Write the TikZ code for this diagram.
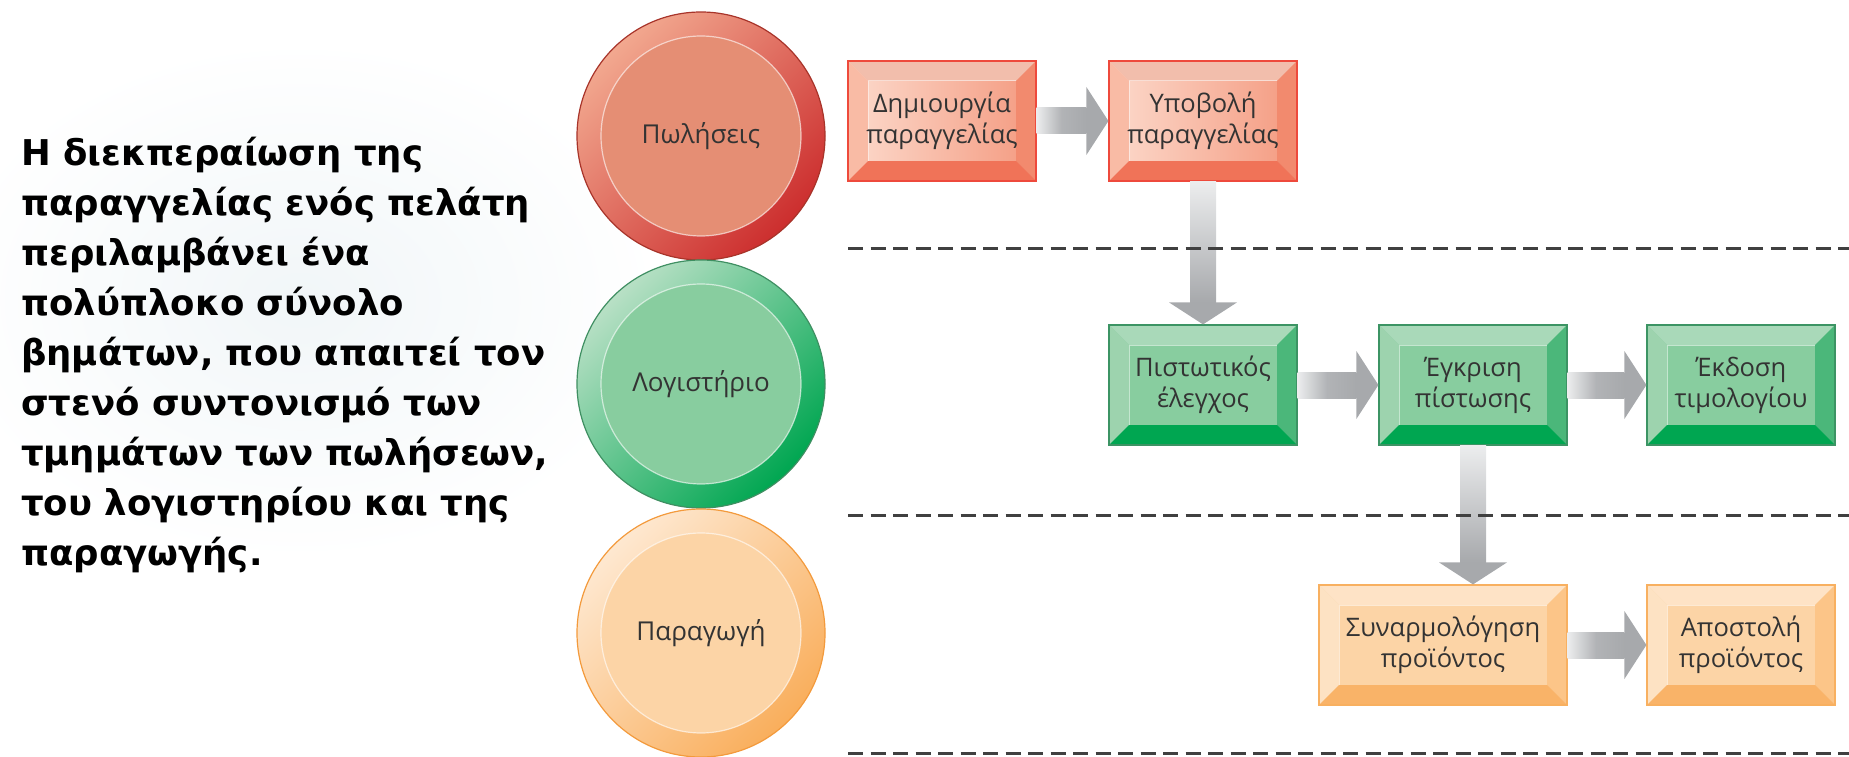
\documentclass[tikz,border=0pt]{standalone}
\usepackage{fontspec}
\setmainfont{Open Sans}
\newfontfamily\leadfont{DejaVu Sans}
\usetikzlibrary{calc}

\definecolor{txtgray}{HTML}{333333}
\definecolor{lanegray}{HTML}{404040}
\definecolor{arrowgray}{HTML}{A7A9AC}
\definecolor{arrowlight}{HTML}{ECEDEE}
\definecolor{bgblue}{HTML}{F1F6F8}
% circles
\definecolor{redlight}{HTML}{F2A88F}
\definecolor{reddark}{HTML}{CC2E2E}
\definecolor{redface}{HTML}{E58E74}
\definecolor{redline}{HTML}{A8342A}
\definecolor{greenlight}{HTML}{B8E0C5}
\definecolor{greendark}{HTML}{00A651}
\definecolor{greenface}{HTML}{88CD9F}
\definecolor{greenline}{HTML}{3F8F62}
\definecolor{orangelight}{HTML}{FEE8D0}
\definecolor{orangedark}{HTML}{F9AE5C}
\definecolor{orangeface}{HTML}{FCD4A6}
\definecolor{orangeline}{HTML}{F39A3C}
% boxes
\definecolor{redtop}{HTML}{F2BEAC}
\definecolor{redlft}{HTML}{F9BBA5}
\definecolor{redrgt}{HTML}{F28A6E}
\definecolor{redbot}{HTML}{F07358}
\definecolor{redfacel}{HTML}{FCDACC}
\definecolor{redfacer}{HTML}{F49A80}
\definecolor{redborder}{HTML}{EE4A3C}
\definecolor{greentop}{HTML}{A9D9B9}
\definecolor{greenlft}{HTML}{9DD3AE}
\definecolor{greenrgt}{HTML}{4BB77A}
\definecolor{greenbot}{HTML}{00A651}
\definecolor{greenfacel}{HTML}{88CD9F}
\definecolor{greenfacer}{HTML}{88CD9F}
\definecolor{greenborder}{HTML}{3C9464}
\definecolor{orangetop}{HTML}{FEE3C6}
\definecolor{orangelft}{HTML}{FDE2C3}
\definecolor{orangergt}{HTML}{FCC588}
\definecolor{orangebot}{HTML}{F9B368}
\definecolor{orangefacel}{HTML}{FCD4A6}
\definecolor{orangefacer}{HTML}{FCD4A6}
\definecolor{orangeborder}{HTML}{F8B060}

\newcommand{\flowright}[2]{%
  \shade[left color=arrowlight, right color=arrowgray, middle color=arrowgray!85!arrowlight]
    ($(#1.east)+(0,-13)$) rectangle ($(#2.west)+(-22,13)$);
  \fill[arrowgray] ($(#2.west)+(-22,-34)$) -- (#2.west) -- ($(#2.west)+(-22,34)$) -- cycle;}
\newcommand{\flowdown}[2]{%
  \shade[top color=arrowlight, bottom color=arrowgray]
    ($(#1)+(-13,0)$) rectangle ($(#2)+(13,-22)$);
  \fill[arrowgray] ($(#2)+(-34,-22)$) -- (#2) -- ($(#2)+(34,-22)$) -- cycle;}

\begin{document}
\begin{tikzpicture}
  [x=1pt,y=-1pt,
   dept/.style={circle,minimum size=248,inner sep=0pt,line width=1.2,
     draw=#1line,top color=#1light,bottom color=#1dark,shading angle=45,
     text=txtgray,font=\fontsize{26}{30}\selectfont,
     path picture={
       \fill[#1face] (path picture bounding box.center) circle (100);
       \draw[white,opacity=0.6,line width=1.2] (path picture bounding box.center) circle (100);}},
   taskbox/.style={rectangle,minimum width=188,minimum height=120,inner sep=0pt,
     line width=1.2,draw=#1border,left color=#1facel,right color=#1facer,
     align=center,text=txtgray,font=\fontsize{25.5}{31}\selectfont,
     path picture={
       \coordinate (bnw) at (path picture bounding box.north west);
       \coordinate (bne) at (path picture bounding box.north east);
       \coordinate (bsw) at (path picture bounding box.south west);
       \coordinate (bse) at (path picture bounding box.south east);
       \fill[#1top] (bnw) -- (bne) -- ($(bne)+(-20,20)$) -- ($(bnw)+(20,20)$) -- cycle;
       \fill[#1lft] (bnw) -- ($(bnw)+(20,20)$) -- ($(bsw)+(20,-20)$) -- (bsw) -- cycle;
       \fill[#1rgt] (bne) -- ($(bne)+(-20,20)$) -- ($(bse)+(-20,-20)$) -- (bse) -- cycle;
       \fill[#1bot] (bsw) -- ($(bsw)+(20,-20)$) -- ($(bse)+(-20,-20)$) -- (bse) -- cycle;
       \draw[white,opacity=0.5,line width=1] ($(bsw)+(20,-20)$) -- ($(bnw)+(20,20)$) -- ($(bne)+(-20,20)$);}},
   lane/.style={draw=lanegray,line width=3,dash pattern=on 15 off 7.5}]
  \useasboundingbox (0,0) rectangle (1849,757);
  \shade[inner color=bgblue,outer color=white] (300,300) ellipse (360 and 260);

  \node[anchor=north west,inner sep=0pt,align=left,
    font=\leadfont\bfseries\fontsize{35.5}{50}\selectfont] (intro) at (21,137)
    {Η διεκπεραίωση της\\
     παραγγελίας ενός πελάτη\\
     περιλαμβάνει ένα\\
     πολύπλοκο σύνολο\\
     βημάτων, που απαιτεί τον\\
     στενό συντονισμό των\\
     τμημάτων των πωλήσεων,\\
     του λογιστηρίου και της\\
     παραγωγής.};

  \node[dept=red] (sales) at (701,136) {Πωλήσεις};
  \node[dept=green] (acct) at (701,384) {Λογιστήριο};
  \node[dept=orange] (prod) at (701,633) {Παραγωγή};

  \node[taskbox=red] (create) at (942,121) {Δημιουργία\\παραγγελίας};
  \node[taskbox=red] (submit) at (1203,121) {Υποβολή\\παραγγελίας};
  \node[taskbox=green] (credit) at (1203,385) {Πιστωτικός\\έλεγχος};
  \node[taskbox=green] (approve) at (1473,385) {Έγκριση\\πίστωσης};
  \node[taskbox=green] (invoice) at (1741,385) {Έκδοση\\τιμολογίου};
  \node[taskbox=orange,minimum width=248] (assemble) at (1443,645) {Συναρμολόγηση\\προϊόντος};
  \node[taskbox=orange] (ship) at (1741,645) {Αποστολή\\προϊόντος};
  \coordinate (asmtop) at (approve.south |- assemble.north);

  \flowright{create}{submit}
  \flowdown{submit.south}{credit.north}
  \flowright{credit}{approve}
  \flowright{approve}{invoice}
  \flowdown{approve.south}{asmtop}
  \flowright{assemble}{ship}

  \draw[lane] (848,248) -- (1849,248);
  \draw[lane] (848,515) -- (1849,515);
  \draw[lane] (848,753) -- (1849,753);
\end{tikzpicture}
\end{document}
